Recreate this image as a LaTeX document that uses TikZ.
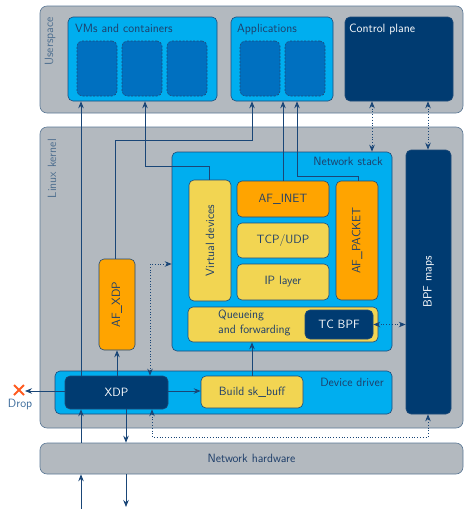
\documentclass[tikz,border=0pt]{standalone}
\usetikzlibrary{arrows.meta}
\definecolor{grayfill}{HTML}{B3B9BF}
\definecolor{grayborder}{HTML}{5B7895}
\definecolor{cyanfill}{HTML}{00AEEF}
\definecolor{bluefill}{HTML}{0070C0}
\definecolor{navyfill}{HTML}{003B71}
\definecolor{yellowfill}{HTML}{F2D552}
\definecolor{orangefill}{HTML}{FFA400}
\definecolor{bordercol}{HTML}{1F4A78}
\definecolor{linecol}{HTML}{1A4677}
\definecolor{txtcol}{HTML}{1F3F6A}
\definecolor{lblcol}{HTML}{4F6F8F}
\definecolor{dropcol}{HTML}{FF5A1F}
\definecolor{droptxt}{HTML}{3A6A9A}
\begin{document}
\begin{tikzpicture}[x=1pt,y=-1pt,
  font=\sffamily\fontsize{12}{15}\selectfont,
  base/.style={draw=bordercol, line width=0.6pt, rounded corners=5pt, inner sep=0pt, text=txtcol},
  graybox/.style={base, fill=grayfill, draw=grayborder, rounded corners=7pt},
  cyanbox/.style={base, fill=cyanfill},
  dashbox/.style={base, fill=bluefill, dash pattern=on 2pt off 1.5pt, minimum width=40pt, minimum height=55pt},
  navybox/.style={base, fill=navyfill, text=white},
  yellowbox/.style={base, fill=yellowfill},
  orangebox/.style={base, fill=orangefill},
  lbl/.style={inner sep=0pt, text=lblcol},
  txt/.style={inner sep=0pt, text=txtcol},
  tip/.style={},
  arr/.style={draw=linecol, line width=0.8pt, -{Stealth[length=7pt,width=5.5pt]}},
  darr/.style={draw=linecol, line width=0.8pt, dotted, {Stealth[length=7pt,width=5.5pt]}-{Stealth[length=7pt,width=5.5pt]}},
]
\useasboundingbox (0,0) rectangle (464,509);

% outer regions
\node[graybox, minimum width=423pt, minimum height=107pt] (user) at (251.5,59.5) {};
\node[graybox, minimum width=423pt, minimum height=301pt] (kernel) at (251.5,277.5) {};
\node[graybox, minimum width=423pt, minimum height=31pt] (hw) at (251.5,458.5) {Network hardware};
\node[lbl, rotate=90, anchor=east] (userlbl) at (50,17) {Userspace};
\node[lbl, rotate=90, anchor=east] (kernlbl) at (52,139) {Linux kernel};

% userspace
\node[cyanbox, minimum width=149pt, minimum height=84pt] (vms) at (142.5,59) {};
\node[txt, anchor=base west] (vmslbl) at (75,32) {VMs and containers};
\node[dashbox] (vm1) at (97,68.5) {};
\node[dashbox] (vm2) at (142,68.5) {};
\node[dashbox] (vm3) at (187,68.5) {};
\node[cyanbox, minimum width=102pt, minimum height=84pt] (apps) at (282,59) {};
\node[txt, anchor=base west] (appslbl) at (237,32) {Applications};
\node[dashbox] (app1) at (260,68.5) {};
\node[dashbox] (app2) at (305,68.5) {};
\node[navybox, minimum width=108pt, minimum height=84pt] (ctrl) at (399,59) {};
\node[inner sep=0pt, text=white, anchor=base west] (ctrllbl) at (349,32) {Control plane};

% kernel
\node[cyanbox, minimum width=220pt, minimum height=199pt] (netstack) at (282,251.5) {};
\node[txt, anchor=east] (netlbl) at (383,161) {Network stack};
\node[yellowbox, minimum width=42pt, minimum height=121pt] (vdev) at (210,240.5) {};
\node[txt, rotate=90] at (vdev.center) {Virtual devices};
\node[orangebox, minimum width=92pt, minimum height=36pt] (afinet) at (283,199) {AF\_INET};
\node[yellowbox, minimum width=92pt, minimum height=35pt] (tcp) at (283,240.5) {TCP/UDP};
\node[yellowbox, minimum width=92pt, minimum height=36pt] (ip) at (283,282) {IP layer};
\node[orangebox, minimum width=42pt, minimum height=119pt] (afpacket) at (357,240.5) {};
\node[txt, rotate=90] at (afpacket.center) {AF\_PACKET};
\node[yellowbox, minimum width=190pt, minimum height=35pt] (queue) at (283,324.5) {};
\node[txt, align=left, anchor=west] (queuetxt) at (218,323) {Queueing\\and forwarding};
\node[navybox, minimum width=68pt, minimum height=29pt] (tcbpf) at (339,324.5) {TC BPF};
\node[navybox, minimum width=45pt, minimum height=264pt] (bpfmaps) at (428.5,282) {};
\node[inner sep=0pt, text=white, rotate=90] at (bpfmaps.center) {BPF maps};
\node[cyanbox, minimum width=337pt, minimum height=43pt] (devdrv) at (223.5,392.5) {};
\node[txt, anchor=east] (devlbl) at (384,382) {Device driver};
\node[navybox, minimum width=103pt, minimum height=33pt] (xdp) at (116.5,392.5) {XDP};
\node[yellowbox, minimum width=102pt, minimum height=32pt] (skbuff) at (252,392) {Build sk\_buff};
\node[orangebox, minimum width=36pt, minimum height=91pt] (afxdp) at (117,304.5) {};
\node[txt, rotate=90] at (afxdp.center) {AF\_XDP};

% drop
\coordinate (drop) at (25,391);
\draw[dropcol, line width=2pt] (14,385) -- (24,395) (14,395) -- (24,385);
\node[inner sep=0pt, text=droptxt] (droplbl) at (20,404) {Drop};

% free ends
\coordinate (inbot) at (81,509);
\coordinate (outbot) at (126,507);

% solid connectors
\draw[arr] (inbot) -- (inbot |- hw.south);
\draw[arr] (81,0 |- hw.north) -- (81,0 |- xdp.south);
\draw[arr] (81,0 |- xdp.north) -- (81,0 |- vms.south);
\draw[arr] (126,0 |- xdp.south) -- (126,0 |- hw.north);
\draw[arr] (126,0 |- hw.south) -- (outbot);
\draw[arr] (117,0 |- xdp.north) -- (117,0 |- afxdp.south);
\draw[arr] (115,0 |- afxdp.north) -- (115,140) -- (252,140) -- (252,0 |- apps.south);
\draw[arr] (209,0 |- vdev.north) -- (209,166) -- (145,166) -- (145,0 |- vms.south);
\draw[arr] (283,0 |- afinet.north) -- (283,0 |- apps.south);
\draw[arr] (358,0 |- afpacket.north) -- (358,176) -- (297,176) -- (297,0 |- apps.south);
\draw[arr] (252,0 |- skbuff.north) -- (252,0 |- queue.south);
\draw[arr] (xdp.east |- 0,391) -- (skbuff.west |- 0,391);
\draw[arr] (xdp.west |- 0,391) -- (drop);

% dotted connectors
\draw[darr] (372,0 |- ctrl.south) -- (372,0 |- netstack.north);
\draw[darr] (428,0 |- ctrl.south) -- (428,0 |- bpfmaps.north);
\draw[darr] (tcbpf.east) -- (bpfmaps.west |- tcbpf.east);
\draw[darr] (150,0 |- xdp.north) -- (150,264) -- (netstack.west |- 0,264);
\draw[darr] (152,0 |- xdp.south) -- (152,437) -- (428,437) -- (428,0 |- bpfmaps.south);
\end{tikzpicture}
\end{document}
